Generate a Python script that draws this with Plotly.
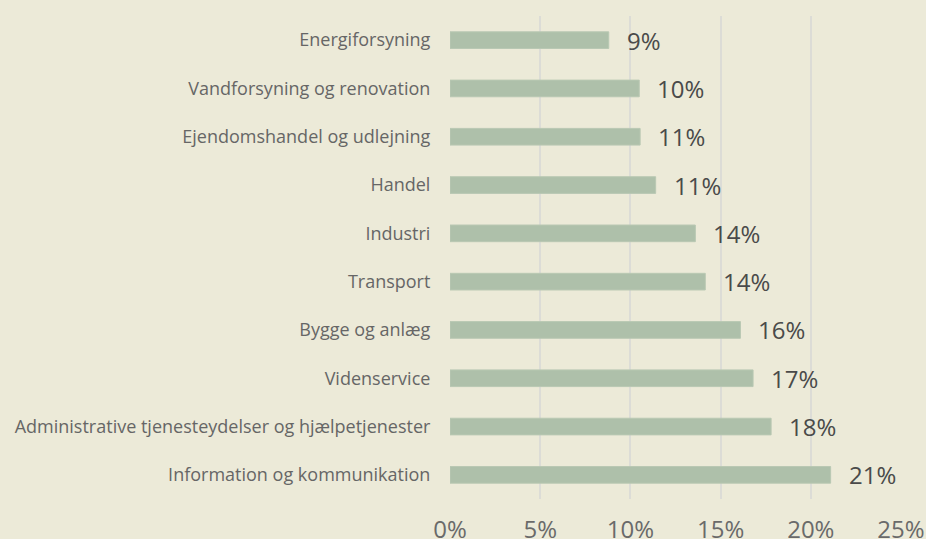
import plotly.graph_objects as go

categories = [
    "Energiforsyning",
    "Vandforsyning og renovation",
    "Ejendomshandel og udlejning",
    "Handel",
    "Industri",
    "Transport",
    "Bygge og anlæg",
    "Videnservice",
    "Administrative tjenesteydelser og hjælpetjenester",
    "Information og kommunikation",
]
values = [8.8, 10.49, 10.54, 11.4, 13.6, 14.15, 16.1, 16.8, 17.8, 21.1]
tick_vals = [0, 5, 10, 15, 20, 25]
tick_text = ["0%", "5%", "10%", "15%", "20%", "25%"]

BG = "#ECEAD8"
BAR = "#AEC0AA"
FONT = "Open Sans"

fig = go.Figure()
fig.add_trace(go.Bar(
    x=values,
    y=categories,
    orientation="h",
    marker=dict(color=BAR, line=dict(color="#B9C8B3", width=1)),
    hoverinfo="skip",
))

for v, c in zip(values, categories):
    fig.add_annotation(
        x=v, y=c, text=f"{round(v)}%", showarrow=False,
        xanchor="left", yanchor="middle", xshift=16,
        font=dict(family=FONT, size=24, color="#4A4A4A"),
    )

fig.update_layout(
    width=926, height=539,
    paper_bgcolor=BG, plot_bgcolor=BG,
    margin=dict(l=450, r=25, t=16, b=40, autoexpand=False),
    bargap=0.655,
    showlegend=False,
    font=dict(family=FONT),
    xaxis=dict(
        range=[0, 25], tickvals=tick_vals, ticktext=tick_text,
        showgrid=True, gridcolor="#DCDCD6", gridwidth=2,
        zeroline=False, showline=False, automargin=False,
        ticks="outside", ticklen=9, tickcolor="rgba(0,0,0,0)",
        tickfont=dict(family=FONT, size=24, color="#6A6A6A"),
        fixedrange=True,
    ),
    yaxis=dict(
        autorange="reversed", automargin=False,
        showgrid=False, zeroline=False, showline=False,
        ticks="outside", ticklen=15, tickcolor="rgba(0,0,0,0)",
        tickfont=dict(family=FONT, size=18, color="#666666"),
        fixedrange=True,
    ),
)

fig.write_html(
    "out.html",
    config={"displayModeBar": False},
    post_script="document.body.style.margin='0';",
)
